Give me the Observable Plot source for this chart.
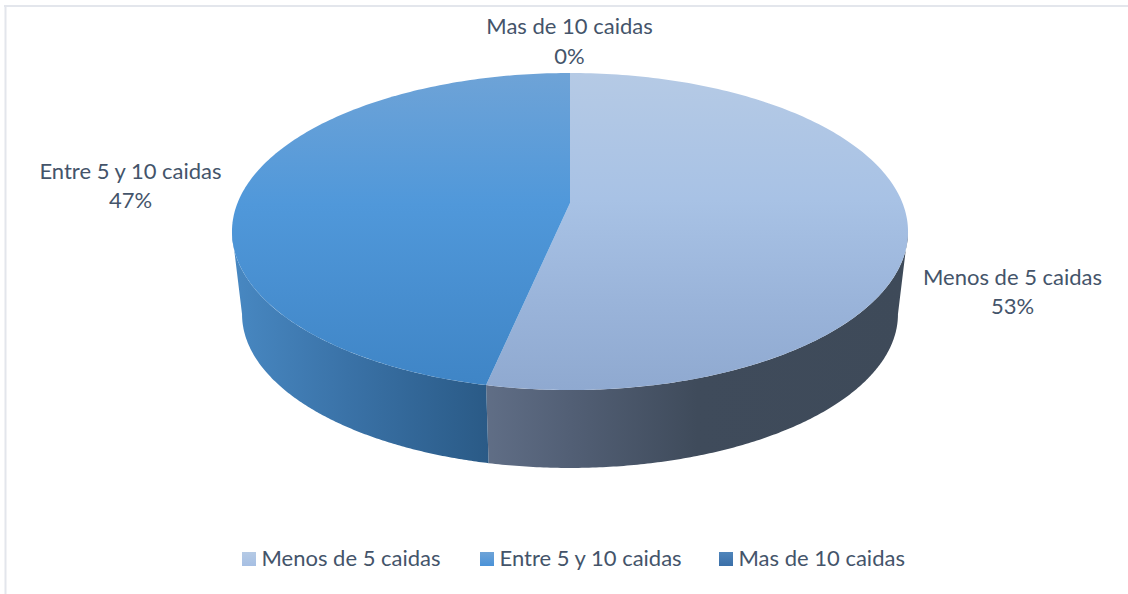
<!DOCTYPE html>
<html lang="es">
<head>
<meta charset="utf-8">
<script src="https://cdn.jsdelivr.net/npm/d3@7"></script>
<script src="https://cdn.jsdelivr.net/npm/@observablehq/plot@0.6"></script>
<style>html,body{margin:0;padding:0;background:#fff}svg{display:block}</style>
</head>
<body>
<div id="chart"></div>
<script>
const categories = ["Menos de 5 caidas", "Entre 5 y 10 caidas", "Mas de 10 caidas"];
const values = [8, 7, 0];

// Layout only
const W = 1128, H = 594, textColor = "#44546a", fontFamily = "Lato, 'Open Sans', sans-serif";
const cx = 570, apexY = 203, persp = 0.18;
const topRim = {A: 332.5, B: 153.4, y0: apexY};
const lowRim = {A: 322.6, B: 148.8, y0: 286.5};
const labelAnchor = [[1012, 289.5], [130, 183.5], [569, 39]];
const legendSwatchX = [242, 480, 719];
const legendTextOffset = 19;

const total = d3.sum(values);
const project = (deg, r) => {
  const t = deg * Math.PI / 180, u = Math.sin(t), v = Math.cos(t), w = 1 + persp * v;
  return {x: cx + r.A * u / w, y: r.y0 - r.B * v / w};
};
const tangent = Math.acos(-persp) * 180 / Math.PI;   // where the rim turns away from the viewer

let acc = 0;
const slices = categories.map((name, i) => {
  const a0 = acc / total * 360; acc += values[i];
  return {name, i, a0, a1: acc / total * 360, share: values[i] / total};
});
const arc = (a0, a1) => d3.range(0, 181).map(k => a0 + (a1 - a0) * k / 180);

const topFace = s => arc(s.a0, s.a1).map(a => {
  const p = project(a, topRim);
  return {x1: cx, y1: apexY, x2: p.x, y2: p.y};
});
const wall = s => {
  const a0 = Math.max(s.a0, tangent), a1 = Math.min(s.a1, 360 - tangent);
  return a1 <= a0 ? [] : arc(a0, a1).map(a => {
    const p = project(a, topRim), q = project(a, lowRim);
    return {x1: p.x, y1: p.y, x2: q.x, y2: q.y};
  });
};

const gradients = {
  top0: {dir: "v", stops: [[0, "#b5cae5"], [0.4, "#a8c2e5"], [0.72, "#9ab4da"], [1, "#8fa9d0"]]},
  top1: {dir: "v", stops: [[0, "#6ea3d7"], [0.42, "#5098da"], [1, "#3f85c6"]]},
  wall0: {dir: "h", stops: [[0, "#606e86"], [0.2, "#525f75"], [0.5, "#3f4b5b"], [1, "#3e4a59"]]},
  wall1: {dir: "h", stops: [[0, "#4888c2"], [0.45, "#3a72a7"], [1, "#2a5a86"]]},
  leg0: {dir: "v", stops: [[0, "#b5cae5"], [1, "#a6bfe3"]]},
  leg1: {dir: "v", stops: [[0, "#6ea3d7"], [1, "#4a92d8"]]},
  leg2: {dir: "v", stops: [[0, "#4f85bb"], [1, "#3a6fa8"]]}
};
const defsMark = () => {
  const defs = d3.create("svg:defs");
  Object.entries(gradients).forEach(([id, g]) => {
    const lg = defs.append("linearGradient").attr("id", id)
      .attr("x1", 0).attr("y1", 0)
      .attr("x2", g.dir === "h" ? 1 : 0).attr("y2", g.dir === "v" ? 1 : 0);
    g.stops.forEach(([o, c]) => lg.append("stop").attr("offset", o).attr("stop-color", c));
  });
  return defs.node();
};

const visible = slices.filter(s => s.share > 0);
const areaXY = {x1: "x1", y1: "y1", x2: "x2", y2: "y2"};
const labels = slices.map(s => ({
  text: s.name + "\n" + Math.round(s.share * 100) + "%",
  x: labelAnchor[s.i][0], y: labelAnchor[s.i][1]
}));
const legend = slices.map(s => ({name: s.name, i: s.i, x: legendSwatchX[s.i]}));
const legendY = 559;

const chart = Plot.plot({
  width: W, height: H,
  margin: 0,
  x: {domain: [0, W], range: [0, W], axis: null},
  y: {domain: [0, H], range: [0, H], axis: null},
  style: {background: "#fff", fontFamily},
  marks: [
    defsMark,
    Plot.ruleY([5.5], {x1: 4, x2: W, stroke: "#e3e6ec", strokeWidth: 2}),
    Plot.ruleX([5], {y1: 5, y2: H, stroke: "#e3e6ec", strokeWidth: 2}),
    ...visible.map(s => Plot.area(wall(s), {...areaXY, fill: `url(#wall${s.i})`})),
    ...visible.map(s => Plot.area(topFace(s), {...areaXY, fill: `url(#top${s.i})`})),
    Plot.text(labels, {x: "x", y: "y", text: "text", fill: textColor, fontSize: 22, lineHeight: 1.34, textAnchor: "middle"}),
    Plot.rect(legend, {x1: "x", x2: d => d.x + 14, y1: legendY - 7, y2: legendY + 7, fill: d => `url(#leg${d.i})`}),
    Plot.text(legend, {x: d => d.x + legendTextOffset, y: legendY - 1, text: "name", fill: textColor, fontSize: 22, textAnchor: "start"})
  ]
});
document.getElementById("chart").appendChild(chart);
</script>
</body>
</html>
